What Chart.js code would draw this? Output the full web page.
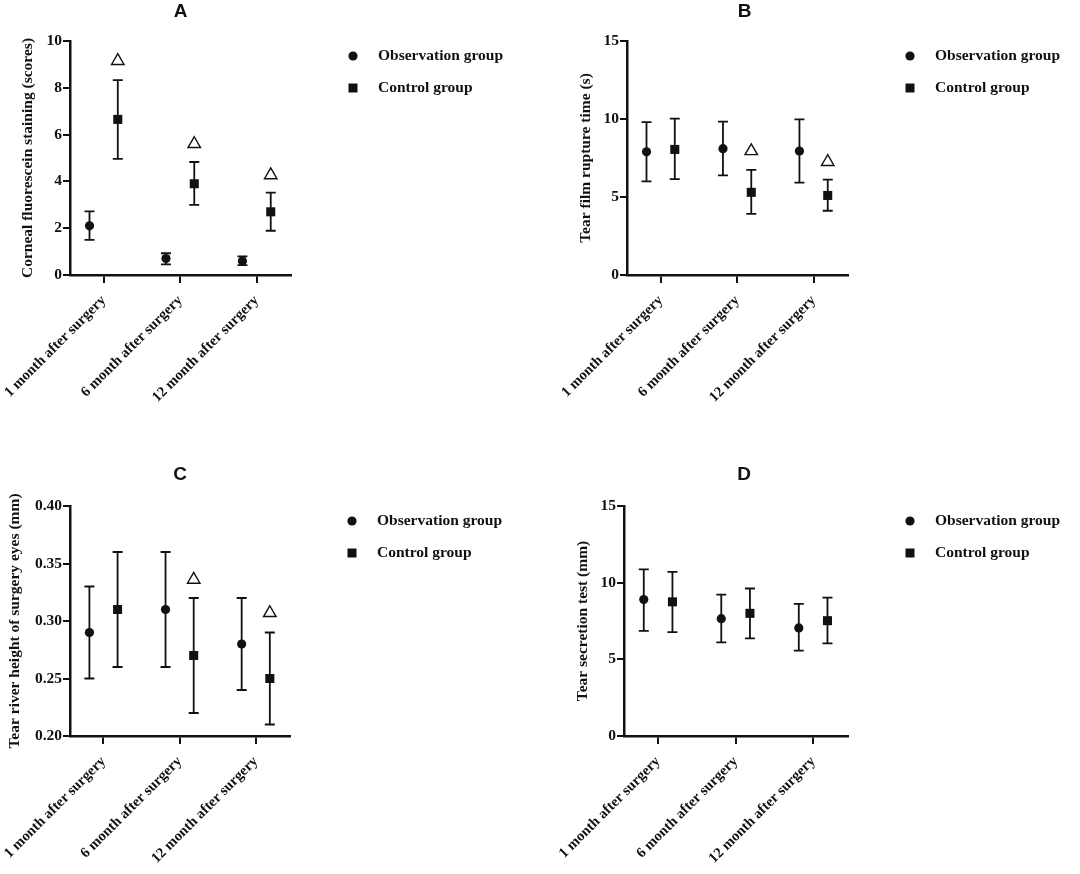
<!DOCTYPE html>
<html>
<head>
<meta charset="utf-8">
<script src="https://cdn.jsdelivr.net/npm/chart.js@4.4.1/dist/chart.umd.min.js"></script>
<style>
  html, body { margin: 0; padding: 0; background: #fff; }
  #wrap { position: relative; width: 1080px; height: 874px; overflow: hidden; }
  .panel { position: absolute; }
</style>
</head>
<body>
<div id="wrap">
  <div class="panel" style="left:0;top:0"><canvas id="chartA" width="540" height="430"></canvas></div>
  <div class="panel" style="left:540px;top:0"><canvas id="chartB" width="540" height="430"></canvas></div>
  <div class="panel" style="left:0;top:430px"><canvas id="chartC" width="540" height="444"></canvas></div>
  <div class="panel" style="left:540px;top:430px"><canvas id="chartD" width="540" height="444"></canvas></div>
</div>
<script>
// ── Data ────────────────────────────────────────────────────────────────

const CATEGORIES = ['1 month after surgery', '6 month after surgery', '12 month after surgery'];
const GROUPS = ['Observation group', 'Control group'];

// A : corneal fluorescein staining
const A_OBS = [2.1, 0.7, 0.6];
const A_OBS_LOW = [1.5, 0.45, 0.42];
const A_OBS_HIGH = [2.72, 0.93, 0.8];
const A_CTRL = [6.65, 3.9, 2.7];
const A_CTRL_LOW = [4.96, 3.0, 1.89];
const A_CTRL_HIGH = [8.33, 4.83, 3.52];
const A_MARK = [9.15, 5.6, 4.27];

// B : tear film rupture time
const B_OBS = [7.9, 8.1, 7.95];
const B_OBS_LOW = [6.0, 6.38, 5.92];
const B_OBS_HIGH = [9.8, 9.83, 9.98];
const B_CTRL = [8.05, 5.3, 5.1];
const B_CTRL_LOW = [6.15, 3.92, 4.12];
const B_CTRL_HIGH = [10.02, 6.74, 6.12];
const B_MARK = [null, 7.95, 7.25];

// C : tear river height
const C_OBS = [0.29, 0.31, 0.28];
const C_OBS_LOW = [0.25, 0.26, 0.24];
const C_OBS_HIGH = [0.33, 0.36, 0.32];
const C_CTRL = [0.31, 0.27, 0.25];
const C_CTRL_LOW = [0.26, 0.22, 0.21];
const C_CTRL_HIGH = [0.36, 0.32, 0.29];
const C_MARK = [null, 0.336, 0.307];

// D : tear secretion test
const D_OBS = [8.9, 7.65, 7.05];
const D_OBS_LOW = [6.85, 6.1, 5.57];
const D_OBS_HIGH = [10.87, 9.22, 8.62];
const D_CTRL = [8.75, 8.0, 7.52];
const D_CTRL_LOW = [6.78, 6.37, 6.04];
const D_CTRL_HIGH = [10.7, 9.62, 9.02];
const D_MARK = [null, null, null];

// ── Style ───────────────────────────────────────────────────────────────

const INK = '#111111';
const SERIF = '"Liberation Serif", "Times New Roman", serif';
const SANS = '"Liberation Sans", Arial, sans-serif';
const SHIFT = 0.185; // décalage horizontal des deux groupes autour du tick

Chart.defaults.font.family = SERIF;
Chart.defaults.font.weight = 'bold';
Chart.defaults.font.size = 15;
Chart.defaults.color = INK;

// Barres d'erreur (moyenne ± écart-type)
const errorBars = {
  id: 'errorBars',
  beforeDatasetsDraw(chart) {
    const { ctx, scales: { x, y } } = chart;
    ctx.save();
    ctx.strokeStyle = INK;
    ctx.lineWidth = 1.8;
    chart.data.datasets.forEach(ds => {
      if (!ds.errLow) return;
      ds.data.forEach((p, j) => {
        if (p.y == null) return;
        const px = x.getPixelForValue(p.x);
        const lo = y.getPixelForValue(ds.errLow[j]);
        const hi = y.getPixelForValue(ds.errHigh[j]);
        ctx.beginPath();
        ctx.moveTo(px, lo); ctx.lineTo(px, hi);
        ctx.moveTo(px - 5, lo); ctx.lineTo(px + 5, lo);
        ctx.moveTo(px - 5, hi); ctx.lineTo(px + 5, hi);
        ctx.stroke();
      });
    });
    ctx.restore();
  },
};

// Légende à droite du graphique
const sideLegend = {
  id: 'sideLegend',
  afterDraw(chart) {
    const { ctx, chartArea } = chart;
    const mx = chartArea.right + 62;
    const tx = chartArea.right + 87;
    const y1 = chartArea.top + 15;
    const y2 = chartArea.top + 47;
    ctx.save();
    ctx.fillStyle = INK;
    ctx.beginPath();
    ctx.arc(mx, y1, 4.6, 0, 2 * Math.PI);
    ctx.fill();
    ctx.fillRect(mx - 4.5, y2 - 4.5, 9, 9);
    ctx.font = 'bold 15.5px ' + SERIF;
    ctx.textBaseline = 'middle';
    ctx.textAlign = 'left';
    ctx.fillText(GROUPS[0], tx, y1);
    ctx.fillText(GROUPS[1], tx, y2);
    ctx.restore();
  },
};

// Décale le titre du panneau (B et D ne sont pas centrés sur la zone)
const titleShift = {
  id: 'titleShift',
  afterLayout(chart, args, opts) {
    if (!opts.dx || !chart.titleBlock) return;
    chart.titleBlock.left += opts.dx;
    chart.titleBlock.right += opts.dx;
  },
};

function points(values, offset) {
  return values.map((v, i) => ({ x: i + 1 + offset, y: v }));
}

function makeChart(id, p) {
  const H = p.height;
  return new Chart(document.getElementById(id), {
    type: 'scatter',
    plugins: [errorBars, sideLegend, titleShift],
    data: {
      datasets: [
        {
          label: GROUPS[0],
          data: points(p.obs, -SHIFT),
          errLow: p.obsLow,
          errHigh: p.obsHigh,
          pointStyle: 'circle',
          pointRadius: 4.6,
          backgroundColor: INK,
          borderWidth: 0,
        },
        {
          label: GROUPS[1],
          data: points(p.ctrl, SHIFT),
          errLow: p.ctrlLow,
          errHigh: p.ctrlHigh,
          pointStyle: 'rect',
          pointRadius: 6.4,
          backgroundColor: INK,
          borderWidth: 0,
        },
        {
          label: 'P<0.05',
          data: points(p.mark, SHIFT),
          pointStyle: 'triangle',
          pointRadius: 7.2,
          backgroundColor: '#ffffff',
          borderColor: INK,
          borderWidth: 1.4,
        },
      ],
    },
    options: {
      responsive: false,
      animation: false,
      layout: { padding: { left: 0, top: 0, right: 540 - p.right, bottom: 0 } },
      plugins: {
        legend: { display: false },
        tooltip: { enabled: false },
        title: {
          display: true,
          text: p.title,
          fullSize: false,
          font: { family: SANS, size: 19, weight: 'bold' },
          color: INK,
          padding: { top: p.titleY - 11.4, bottom: p.top - p.titleY - 11.4 },
        },
        titleShift: { dx: p.titleDx || 0 },
      },
      scales: {
        x: {
          type: 'linear',
          min: 0.56,
          max: 3.45,
          afterFit(s) {
            s.height = H - p.bottom;
            s.paddingLeft = 0;
            s.paddingRight = 0;
          },
          afterBuildTicks(s) { s.ticks = [1, 2, 3].map(v => ({ value: v })); },
          ticks: {
            minRotation: 45,
            maxRotation: 45,
            padding: 9,
            font: { size: 14.6, weight: 'bold' },
            callback: v => CATEGORIES[v - 1],
          },
          grid: { drawOnChartArea: false, tickLength: 8, color: INK, lineWidth: 2 },
          border: { color: INK, width: 2.5 },
        },
        y: {
          type: 'linear',
          min: p.yMin,
          max: p.yMax,
          afterFit(s) { s.width = p.left; },
          ticks: {
            stepSize: p.yStep,
            padding: 1,
            font: { size: 15.5, weight: 'bold' },
            callback: v => v.toFixed(p.decimals),
          },
          title: {
            display: true,
            text: p.yTitle,
            font: { size: 15.5, weight: 'bold' },
            color: INK,
            padding: { top: p.yTitleX - 9.3, bottom: 0 },
          },
          grid: { drawOnChartArea: false, tickLength: 7, color: INK, lineWidth: 2 },
          border: { color: INK, width: 2.5 },
        },
      },
    },
  });
}

makeChart('chartA', {
  title: 'A', yTitle: 'Corneal fluorescein staining (scores)',
  yMin: 0, yMax: 10, yStep: 2, decimals: 0,
  obs: A_OBS, obsLow: A_OBS_LOW, obsHigh: A_OBS_HIGH,
  ctrl: A_CTRL, ctrlLow: A_CTRL_LOW, ctrlHigh: A_CTRL_HIGH, mark: A_MARK,
  height: 430, left: 70, right: 291, top: 41, bottom: 275, titleY: 12, yTitleX: 28,
});

makeChart('chartB', {
  title: 'B', yTitle: 'Tear film rupture time (s)',
  yMin: 0, yMax: 15, yStep: 5, decimals: 0,
  obs: B_OBS, obsLow: B_OBS_LOW, obsHigh: B_OBS_HIGH,
  ctrl: B_CTRL, ctrlLow: B_CTRL_LOW, ctrlHigh: B_CTRL_HIGH, mark: B_MARK,
  height: 430, left: 87, right: 308, top: 41, bottom: 275, titleY: 12, yTitleX: 46, titleDx: 7,
});

makeChart('chartC', {
  title: 'C', yTitle: 'Tear river height of surgery eyes (mm)',
  yMin: 0.2, yMax: 0.4, yStep: 0.05, decimals: 2,
  obs: C_OBS, obsLow: C_OBS_LOW, obsHigh: C_OBS_HIGH,
  ctrl: C_CTRL, ctrlLow: C_CTRL_LOW, ctrlHigh: C_CTRL_HIGH, mark: C_MARK,
  height: 444, left: 70, right: 290, top: 76, bottom: 306, titleY: 45, yTitleX: 15,
});

makeChart('chartD', {
  title: 'D', yTitle: 'Tear secretion test (mm)',
  yMin: 0, yMax: 15, yStep: 5, decimals: 0,
  obs: D_OBS, obsLow: D_OBS_LOW, obsHigh: D_OBS_HIGH,
  ctrl: D_CTRL, ctrlLow: D_CTRL_LOW, ctrlHigh: D_CTRL_HIGH, mark: D_MARK,
  height: 444, left: 84, right: 308, top: 76, bottom: 306, titleY: 45, yTitleX: 43, titleDx: 8,
});
</script>
</body>
</html>
